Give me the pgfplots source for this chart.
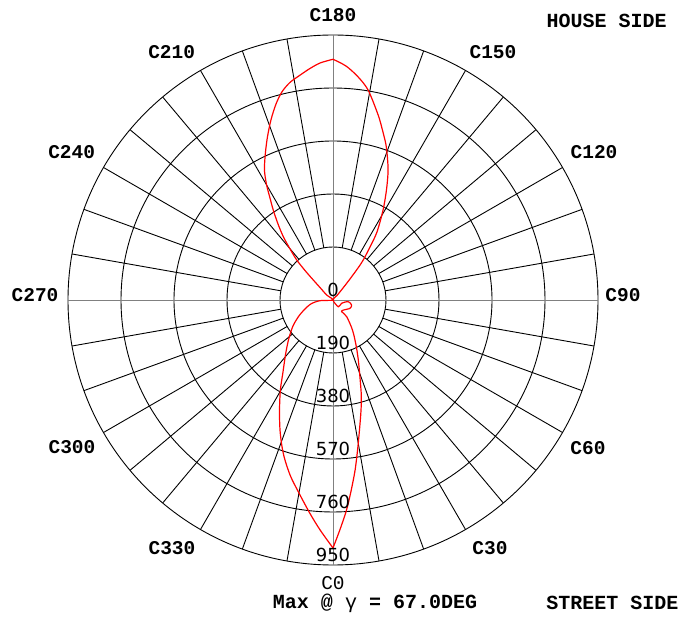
\documentclass[border=0pt]{standalone}
\usepackage{pgfplots}
\pgfplotsset{compat=1.18}
\usepackage{pgfplotstable}
\usepackage{fontspec}
\setmainfont{Liberation Mono}
\newfontfamily\dvs{DejaVu Sans}

% Intensity at gamma = 67 deg versus C-plane angle (C0 street side ... C180 house side)
\pgfplotstableread{
C I
0 889
1.7 825
3.7 754
5.5 684
7.4 615
9.3 545
11.5 476
14.3 407
16.6 355
19.1 296
22.9 233
27.1 181
33.0 128
39.4 77
36.6 52
45.8 52
64.0 68
75.0 69
83.7 55
69.2 33
38.3 31
90 0
138.4 22
140.4 68
141.3 107
142.0 146
142.9 180
145.1 232
147.1 290
150.9 369
154.1 439
156.7 499
158.7 539
161.1 587
163.8 635
166.3 683
170.5 763
173.6 805
176.8 840
180 863
}\curveA

\pgfplotstableread{
C I
180 863
183.1 851
185.7 834
188.3 815
191.2 795
193.8 768
196.2 732
199.0 683
201.9 630
204.7 580
207.8 527
210.0 476
211.7 430
213.6 387
215.9 336
218.1 289
220.1 239
222.2 194
223.5 146
224.6 101
226.1 65
231.6 29
250 0
273.1 47
281.1 84
293.7 129
303.0 171
312.0 215
319.2 261
325.2 314
329.7 374
334.1 439
337.8 503
340.9 558
343.3 599
346.4 649
349.7 698
353.8 769
356.8 826
360 889
}\curveB

\begin{document}
\begin{tikzpicture}
\begin{axis}[scale only axis, width=530bp, height=530bp,
  xmin=-950, xmax=950, ymin=-950, ymax=950, hide axis, clip=false]
\path (axis cs:-1193.8,-1150.8) rectangle (axis cs:1294.2,1075.5);
\pgfplotsinvokeforeach{190,380,570,760,950}{
  \draw[black, line width=0.9bp] (axis cs:0,0) circle[radius=#1];
}
\pgfplotsinvokeforeach{10,20,...,80,100,110,...,170,190,200,...,260,280,290,...,350}{
  \draw[black, line width=0.9bp] (axis cs:{190*cos(#1)},{190*sin(#1)}) -- (axis cs:{950*cos(#1)},{950*sin(#1)});
}
\draw[gray, line width=0.9bp] (axis cs:-950,0) -- (axis cs:950,0);
\draw[gray, line width=0.9bp] (axis cs:0,-950) -- (axis cs:0,950);

\addplot[red, line width=1.2bp, data cs=polar, smooth, tension=0.5]
  table[x expr={\thisrow{C}-90}, y=I] {\curveA};
\addplot[red, line width=1.2bp, data cs=polar, smooth, tension=0.5]
  table[x expr={\thisrow{C}-90}, y=I] {\curveB};

% radial scale labels
\pgfplotsinvokeforeach{0,190,380,570,760,950}{
  \node[anchor=base, inner sep=0pt, font=\dvs\fontsize{18bp}{20bp}\selectfont] at (axis cs:0,{-#1+11}) {#1};
}
% C labels
\tikzset{clab/.style={inner sep=0pt, font=\bfseries\fontsize{19.5bp}{22bp}\selectfont}}
\node[clab] at (axis cs:0,1021.7) {C180};
\node[clab] at (axis cs:573.6,889) {C150};
\node[clab] at (axis cs:935.7,530.6) {C120};
\node[clab] at (axis cs:1039.7,17.9) {C90};
\node[clab] at (axis cs:914.2,-530.6) {C60};
\node[clab] at (axis cs:562.8,-889) {C30};
\node[inner sep=0pt, font=\fontsize{19.5bp}{22bp}\selectfont] at (axis cs:0,-1016) {C0};
\node[clab] at (axis cs:-577.2,-889) {C330};
\node[clab] at (axis cs:-935.7,-527) {C300};
\node[clab] at (axis cs:-1068.3,17.9) {C270};
\node[clab] at (axis cs:-936.9,530.6) {C240};
\node[clab] at (axis cs:-578.3,890.2) {C210};

\node[clab, font=\bfseries\fontsize{20bp}{22bp}\selectfont] at (axis cs:981.2,1001.4) {HOUSE SIDE};
\node[clab, font=\bfseries\fontsize{20bp}{22bp}\selectfont] at (axis cs:1002,-1087.4) {STREET SIDE};
\node[clab, font=\bfseries\fontsize{20bp}{22bp}\selectfont] at (axis cs:150.6,-1087.4) {Max @ {\mdseries γ} = 67.0DEG};
\end{axis}
\end{tikzpicture}
\end{document}
